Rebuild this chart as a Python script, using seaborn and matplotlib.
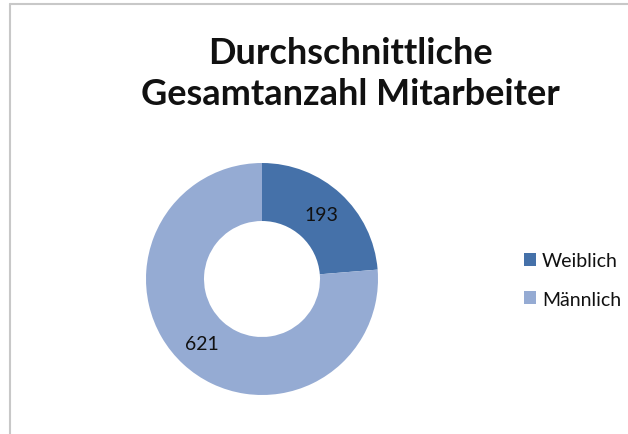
import matplotlib
matplotlib.use("Agg")
import matplotlib.pyplot as plt
from matplotlib.lines import Line2D
from matplotlib.patches import Patch
import seaborn as sns

# data
categories = ["Weiblich", "Männlich"]
values = [193, 621]
colors = ["#4571a9", "#95abd3"]

sns.set_theme(style="white")
plt.rcParams["font.family"] = ["Lato", "DejaVu Sans"]

fig = plt.figure(figsize=(6.28, 4.35), dpi=100)

# chart frame (top and left edge visible)
fig.add_artist(Line2D([10 / 628, 1], [1 - 5 / 435, 1 - 5 / 435], color="#c8c8c8", lw=1.5))
fig.add_artist(Line2D([10 / 628, 10 / 628], [0, 1 - 5 / 435], color="#c8c8c8", lw=1.5))

fig.text(350 / 628, 1 - 74 / 435, "Durchschnittliche\nGesamtanzahl Mitarbeiter",
         ha="center", va="center", fontsize=26, fontweight="bold",
         color="#111111", linespacing=1.32)

# donut
cx, cy, r = 262, 280, 116
ax = fig.add_axes([(cx - r) / 628, (435 - cy - r) / 435, 2 * r / 628, 2 * r / 435])
wedges, texts, autotexts = ax.pie(
    values, colors=colors, startangle=90, counterclock=False,
    wedgeprops=dict(width=0.5, edgecolor="none"),
    autopct=lambda p: f"{round(p * sum(values) / 100):d}",
    pctdistance=0.76, textprops=dict(fontsize=14, color="#111111"))
ax.set_xlim(-1, 1)
ax.set_ylim(-1, 1)
ax.set_aspect("equal")
ax.axis("off")

handles = [Patch(facecolor=c, edgecolor="none") for c in colors]
fig.legend(handles, categories, loc="center left", bbox_to_anchor=(506 / 628, 1 - 281 / 435),
           frameon=False, fontsize=14, handlelength=0.65, handleheight=0.65,
           handletextpad=0.3, labelspacing=1.1, labelcolor="#111111")

fig.savefig("out.png", dpi=100)
